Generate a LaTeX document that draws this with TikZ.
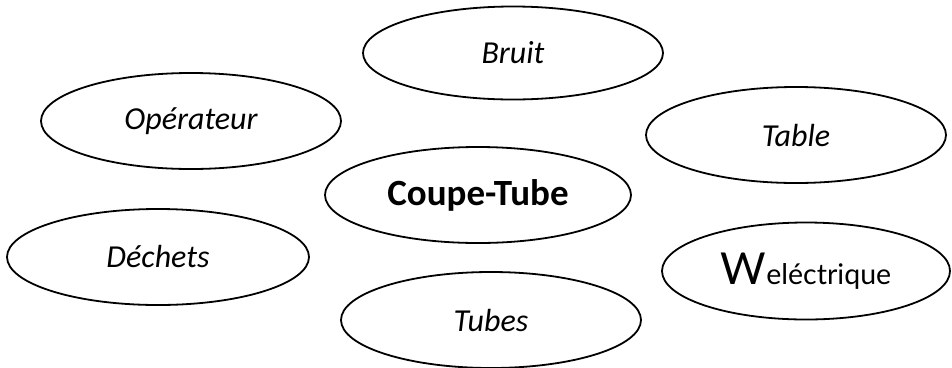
\documentclass[tikz,border=0pt]{standalone}
\usepackage{fontspec}
\setmainfont{Carlito}
\newfontfamily\wfont{Lato}
\usetikzlibrary{shapes.geometric}
\tikzset{
  oval/.style={draw, ellipse, line width=1.8bp, inner sep=0pt},
  itx/.style={font=\fontsize{32bp}{37bp}\selectfont\itshape},
}
\begin{document}
\begin{tikzpicture}[x=1bp,y=-1bp]
\useasboundingbox (0,0) rectangle (952,367);
\node[oval, itx, minimum width=300bp, minimum height=93bp] (bruit) at (513,53) {Bruit};
\node[oval, itx, minimum width=300bp, minimum height=96bp] (oper) at (191,121) {Opérateur};
\node[oval, itx, minimum width=300bp, minimum height=96bp] (table) at (796,135) {Table};
\node[oval, font=\fontsize{37bp}{42bp}\selectfont\bfseries, minimum width=306bp, minimum height=96bp] (coupe) at (478,195) {Coupe-Tube};
\node[oval, itx, minimum width=302bp, minimum height=96bp] (dechets) at (158,257) {Déchets};
\node[oval, minimum width=288bp, minimum height=97bp] (welec) at (806,271) {\wfont\fontsize{44bp}{48bp}\selectfont W\fontsize{28.5bp}{32bp}\selectfont eléctrique};
\node[oval, itx, minimum width=300bp, minimum height=96bp] (tubes) at (491,320) {Tubes};
\end{tikzpicture}
\end{document}
